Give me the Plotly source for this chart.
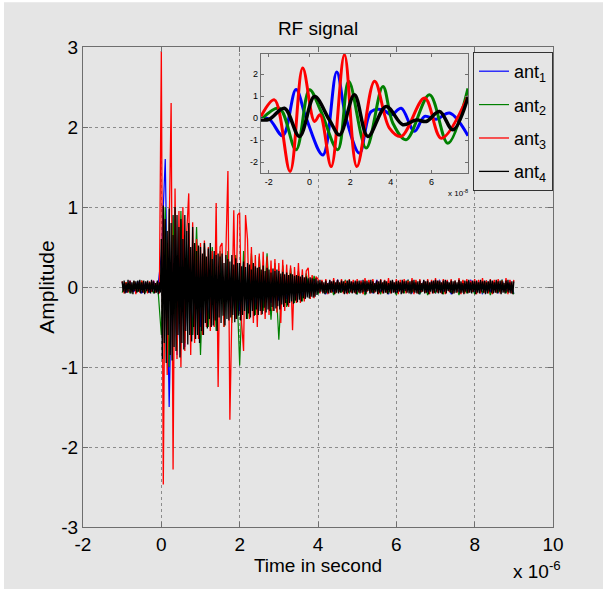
import numpy as np
import plotly.graph_objects as go

# ---------------- data (time in microseconds, amplitude in volts) ----------------
T_START_US = -1.0
FINE_STEP_US = 0.05      # ant3
COARSE_STEP_US = 0.1     # ant1, ant2
DENSE_STEP_US = 0.025    # ant4

# ant1 (blue) sampled on the coarse grid
ant1 = [0.06, -0.07, 0.08, -0.06, 0.07, -0.08, 0.06, -0.07, 0.08, -0.06,
        0.4, 1.6, -1.5, 0.9, -0.85, 0.7, -0.75, 0.6, -0.6, 0.55,
        -0.5, 0.5, -0.45, 0.45, -0.4, 0.4, -0.4, 0.35, -0.35, 0.35,
        -0.3, 0.3, -0.28, 0.25, -0.25, 0.22, -0.22, 0.2, -0.2, 0.18,
        -0.17, 0.16, -0.15, 0.14, -0.13, 0.12, -0.12, 0.11, -0.1, 0.1,
        -0.08, 0.07, -0.09, 0.08, -0.07, 0.09, -0.06, 0.08, -0.08, 0.07,
        -0.09, 0.08, -0.07, 0.06, -0.08, 0.09, -0.07, 0.08, -0.09, 0.07,
        -0.08, 0.06, -0.07, 0.09, -0.08, 0.07, -0.09, 0.08, -0.06, 0.07,
        -0.08, 0.09, -0.07, 0.08, -0.09, 0.06, -0.08, 0.07, -0.07, 0.09,
        -0.08, 0.07, -0.09, 0.08, -0.06, 0.07, -0.08, 0.09, -0.07, 0.08,
        -0.08]

# ant2 (green) sampled on the coarse grid
ant2 = [-0.07, 0.06, -0.08, 0.07, -0.06, 0.08, -0.07, 0.06, -0.08, 0.07,
        -0.6, 1.0, -1.0, 0.9, -0.8, 0.95, -0.7, 0.6, -0.6, 0.75,
        -0.85, 0.55, -0.5, 0.5, -0.55, 0.45, -0.5, 0.45, -0.45, 0.4,
        -0.98, 0.45, -0.4, 0.42, -0.35, 0.38, -0.3, 0.42, -0.41, 0.3,
        -0.66, 0.27, -0.25, 0.24, -0.2, 0.2, -0.18, 0.17, -0.15, 0.14,
        -0.09, 0.07, -0.08, 0.06, -0.1, 0.08, -0.07, 0.09, -0.08, 0.06,
        -0.09, 0.07, -0.1, 0.08, -0.07, 0.06, -0.09, 0.08, -0.08, 0.07,
        -0.1, 0.06, -0.08, 0.09, -0.07, 0.08, -0.09, 0.07, -0.1, 0.06,
        -0.08, 0.08, -0.09, 0.07, -0.07, 0.06, -0.1, 0.08, -0.08, 0.07,
        -0.09, 0.06, -0.08, 0.08, -0.1, 0.07, -0.07, 0.09, -0.08, 0.06,
        -0.09]

# ant3 (red) sampled on the fine grid
ant3 = [0.07, -0.08, 0.06, -0.07, 0.08, -0.06, 0.07, -0.09, 0.06, -0.07,
        0.08, -0.07, 0.06, -0.08, 0.07, -0.06, 0.08, -0.07, 0.06, -0.08,
        2.95, -2.47, 0.85, -1.1, 0.7, 2.3, -2.28, 1.23, -0.9, 0.95,
        -1.0, 1.0, -0.8, 0.7, 1.17, -0.85, 0.81, -0.7, 0.6, -0.65,
        0.55, -0.6, 0.58, -0.5, 0.5, -0.55, 0.45, -0.5, 1.05, -1.25,
        0.5, 0.55, -0.5, 0.45, 1.45, -1.66, -0.45, 0.96, -0.4, 0.9,
        0.93, -0.45, -0.8, 0.9, 0.6, -0.4, 0.5, -0.45, 0.4, -0.5,
        0.42, -0.35, 0.44, -0.4, 0.38, -0.35, 0.33, -0.3, 0.35, -0.32,
        0.3, -0.45, 0.34, -0.3, 0.28, -0.25, 0.27, -0.54, 0.25, -0.2,
        0.3, -0.2, 0.22, -0.18, 0.2, 0.24, -0.15, 0.15, -0.14, 0.13,
        0.1, -0.08, 0.09, -0.07, 0.1, -0.09, 0.08, -0.07, 0.11, -0.08,
        0.09, -0.06, 0.1, -0.08, 0.08, -0.09, 0.1, -0.07, 0.09, -0.08,
        0.1, -0.07, 0.08, -0.09, 0.11, -0.06, 0.09, -0.08, 0.1, -0.07,
        0.08, -0.09, 0.1, -0.08, 0.09, -0.07, 0.11, -0.08, 0.08, -0.06,
        0.1, -0.09, 0.09, -0.07, 0.1, -0.08, 0.08, -0.07, 0.11, -0.09,
        0.09, -0.08, 0.1, -0.06, 0.08, -0.07, 0.1, -0.09, 0.09, -0.08,
        0.11, -0.07, 0.08, -0.08, 0.1, -0.09, 0.09, -0.06, 0.1, -0.08,
        0.08, -0.07, 0.11, -0.09, 0.09, -0.08, 0.1, -0.07, 0.08, -0.06,
        0.1, -0.09, 0.09, -0.08, 0.11, -0.07, 0.08, -0.08, 0.1, -0.09,
        0.09, -0.07, 0.1, -0.08, 0.08, -0.06, 0.11, -0.09, 0.09, -0.08,
        0.09]

# ant4 (black) sampled on the dense grid
ant4 = [0.07, -0.06, 0.08, -0.08, 0.05, -0.07, 0.09, -0.06, 0.07, -0.08, 0.06, -0.09, 0.08, -0.05, 0.07, -0.07, 0.08, -0.06, 0.09, -0.08,
        0.06, -0.07, 0.08, -0.09, 0.07, -0.05, 0.08, -0.07, 0.06, -0.08, 0.09, -0.06, 0.07, -0.08, 0.05, -0.07, 0.08, -0.09, 0.06, -0.07,
        0.6, -0.9, 1.02, -0.7, 0.85, -0.95, 0.7, -0.6, 0.98, -0.85, 0.8, -0.92, 0.65, -0.75, 1.0, -0.8, 0.9, -0.6, 0.75, -0.88,
        0.85, -0.7, 0.6, -0.78, 0.9, -0.55, 0.7, -0.72, 0.8, -0.6, 0.5, -0.68, 0.75, -0.5, 0.55, -0.65, 0.45, -0.6, 0.52, -0.7,
        0.5, -0.55, 0.42, -0.6, 0.55, -0.45, 0.38, -0.52, 0.48, -0.4, 0.55, -0.5, 0.35, -0.48, 0.45, -0.42, 0.4, -0.55, 0.42, -0.38,
        0.38, -0.45, 0.42, -0.36, 0.3, -0.48, 0.4, -0.4, 0.35, -0.42, 0.32, -0.38, 0.4, -0.35, 0.28, -0.44, 0.36, -0.4, 0.3, -0.36,
        0.3, -0.42, 0.26, -0.35, 0.32, -0.3, 0.25, -0.4, 0.3, -0.33, 0.28, -0.38, 0.22, -0.3, 0.3, -0.36, 0.26, -0.28, 0.24, -0.35,
        0.25, -0.3, 0.22, -0.34, 0.27, -0.26, 0.2, -0.32, 0.24, -0.28, 0.22, -0.3, 0.18, -0.25, 0.23, -0.3, 0.2, -0.27, 0.22, -0.24,
        0.2, -0.28, 0.17, -0.22, 0.19, -0.25, 0.16, -0.2, 0.18, -0.23, 0.15, -0.2, 0.17, -0.18, 0.16, -0.21, 0.14, -0.17, 0.15, -0.19,
        0.14, -0.16, 0.13, -0.18, 0.15, -0.14, 0.12, -0.15, 0.13, -0.13, 0.11, -0.14, 0.12, -0.12, 0.11, -0.13, 0.1, -0.12, 0.11, -0.1,
        0.08, -0.07, 0.09, -0.06, 0.07, -0.08, 0.06, -0.09, 0.08, -0.07, 0.05, -0.08, 0.09, -0.07, 0.07, -0.06, 0.08, -0.09, 0.06, -0.07,
        0.09, -0.08, 0.06, -0.07, 0.08, -0.06, 0.07, -0.09, 0.05, -0.08, 0.08, -0.07, 0.09, -0.06, 0.07, -0.08, 0.06, -0.07, 0.08, -0.09,
        0.07, -0.06, 0.08, -0.08, 0.06, -0.07, 0.09, -0.06, 0.07, -0.09, 0.08, -0.05, 0.06, -0.08, 0.09, -0.07, 0.07, -0.08, 0.05, -0.06,
        0.08, -0.09, 0.07, -0.07, 0.09, -0.06, 0.06, -0.08, 0.08, -0.07, 0.07, -0.09, 0.05, -0.06, 0.08, -0.08, 0.09, -0.07, 0.06, -0.08,
        0.07, -0.07, 0.08, -0.06, 0.06, -0.09, 0.09, -0.08, 0.07, -0.05, 0.08, -0.07, 0.06, -0.08, 0.07, -0.09, 0.08, -0.06, 0.09, -0.07,
        0.06, -0.08, 0.07, -0.09, 0.08, -0.07, 0.05, -0.06, 0.09, -0.08, 0.07, -0.07, 0.08, -0.09, 0.06, -0.06, 0.07, -0.08, 0.08, -0.07,
        0.09, -0.06, 0.08, -0.08, 0.07, -0.07, 0.06, -0.09, 0.08, -0.06, 0.09, -0.08, 0.07, -0.05, 0.06, -0.07, 0.08, -0.09, 0.07, -0.08,
        0.08, -0.07, 0.06, -0.06, 0.09, -0.08, 0.07, -0.07, 0.05, -0.09, 0.08, -0.06, 0.07, -0.08, 0.09, -0.07, 0.06, -0.08, 0.08, -0.06,
        0.07, -0.09, 0.08, -0.07, 0.06, -0.08, 0.09, -0.06, 0.07, -0.07, 0.08, -0.09, 0.06, -0.08, 0.07, -0.06, 0.09, -0.07, 0.08, -0.08,
        0.06, -0.07, 0.09, -0.08, 0.07, -0.06, 0.08, -0.09, 0.07, -0.07, 0.05, -0.08, 0.08, -0.06, 0.09, -0.07, 0.06, -0.08, 0.07, -0.09,
        0.07]

# inset: zoom on the first arrival (time in units of 1e-8 s)
zoom_ant1_t = [-2.38, -1.97, -1.31, -0.66, -0.16, 0.66, 1.34, 1.80, 2.46, 3.03, 3.61, 4.02, 4.51, 5.16, 5.66, 6.23, 6.89, 7.79]
zoom_ant1_v = [0.0, -0.05, -0.8, 1.3, 0.0, -1.67, 2.09, 0.0, -1.59, 0.3, 0.38, 0.15, 0.45, -0.6, 0.08, -0.05, 0.23, -0.8]
zoom_ant2_t = [-2.38, -1.48, -0.66, 0.0, 0.57, 1.39, 1.93, 2.79, 3.61, 4.10, 4.75, 5.90, 6.80, 7.79]
zoom_ant2_v = [-0.08, 0.45, -1.44, 1.29, 0.3, -1.44, 1.67, -1.36, 1.44, -0.23, -0.98, 1.06, -1.14, 1.35]
zoom_ant3_t = [-2.38, -1.72, -0.95, -0.33, 0.25, 0.52, 1.07, 1.72, 2.33, 3.20, 3.93, 4.51, 5.66, 6.48, 7.79]
zoom_ant3_v = [0.08, 0.83, -2.42, 2.27, -0.15, 0.15, -2.2, 2.88, -2.2, 1.67, -0.45, -0.83, 0.91, -0.91, 1.0]
zoom_ant4_t = [-2.38, -1.97, -1.23, -0.49, 0.25, 0.98, 1.48, 2.21, 2.87, 3.77, 4.59, 5.25, 5.74, 6.39, 7.05, 7.79]
zoom_ant4_v = [-0.08, -0.05, 0.45, -0.83, 0.98, -0.08, -0.76, 1.06, -0.83, 0.53, -0.3, -0.08, -0.15, 0.3, -0.53, 0.95]

names = ["ant<sub>1</sub>", "ant<sub>2</sub>", "ant<sub>3</sub>", "ant<sub>4</sub>"]
colors = ["#0000ff", "#008000", "#ff0000", "#000000"]
main_widths = [1.2, 1.2, 1.3, 1.3]

x_tick_vals = [-2, 0, 2, 4, 6, 8, 10]
y_tick_vals = [-3, -2, -1, 0, 1, 2, 3]
inset_x_ticks = [-2, 0, 2, 4, 6]
inset_y_ticks = [-2, -1, 0, 1, 2]
INSET_X_RANGE = [-2.38, 7.79]
INSET_Y_RANGE = [-2.49, 2.91]

# ---------------- figure ----------------
t_dense = np.round(T_START_US + DENSE_STEP_US * np.arange(len(ant4)), 4)
t_fine = np.round(T_START_US + FINE_STEP_US * np.arange(len(ant3)), 4)
t_coarse = np.round(T_START_US + COARSE_STEP_US * np.arange(len(ant1)), 4)

BG = "#e5e5e5"
FONT = "Liberation Sans, Arial, sans-serif"

fig = go.Figure()
series = [(t_coarse, ant1), (t_coarse, ant2), (t_fine, ant3), (t_dense, ant4)]
for i, (tt, vv) in enumerate(series):
    fig.add_trace(go.Scatter(x=tt, y=vv, mode="lines", name=names[i],
                             legendgroup=f"g{i}",
                             line=dict(color=colors[i], width=main_widths[i]),
                             xaxis="x", yaxis="y"))

zooms = [(zoom_ant1_t, zoom_ant1_v), (zoom_ant2_t, zoom_ant2_v),
         (zoom_ant3_t, zoom_ant3_v), (zoom_ant4_t, zoom_ant4_v)]
for i, (tt, vv) in enumerate(zooms):
    fig.add_trace(go.Scatter(x=tt, y=vv, mode="lines", showlegend=False,
                             legendgroup=f"z{i}",
                             line=dict(color=colors[i], width=3.5 if i == 3 else 3,
                                       shape="spline", smoothing=1.0),
                             xaxis="x2", yaxis="y2"))

axis_common = dict(showline=True, linecolor="#6e6e6e", linewidth=1.2, mirror="ticks",
                   ticks="inside", tickcolor="#6e6e6e", zeroline=False)

fig.update_layout(
    width=603, height=589,
    margin=dict(l=83, r=50, t=47, b=62, autoexpand=False),
    paper_bgcolor=BG, plot_bgcolor=BG,
    font=dict(family=FONT, color="#000000"),
    title=dict(text="RF signal", x=0.5, xref="paper", xanchor="center",
               y=1 - 28 / 589, yanchor="middle", font=dict(size=19)),
    xaxis=dict(domain=[0, 1], range=[-2, 10], tickvals=x_tick_vals,
               ticktext=[str(v) for v in x_tick_vals], ticklen=5,
               showgrid=True, gridcolor="#8c8c8c", griddash="dot", gridwidth=1,
               tickfont=dict(size=19),
               title=dict(text="Time in second", font=dict(size=19), standoff=0),
               **axis_common),
    yaxis=dict(domain=[0, 1], range=[-3, 3], tickvals=y_tick_vals,
               ticktext=[str(v) for v in y_tick_vals], ticklen=5,
               showgrid=True, gridcolor="#8c8c8c", griddash="dot", gridwidth=1,
               tickfont=dict(size=19),
               title=dict(text="Amplitude", font=dict(size=21), standoff=0),
               **axis_common),
    xaxis2=dict(domain=[0.3787, 0.8191], range=INSET_X_RANGE, anchor="y2",
                tickvals=inset_x_ticks, ticktext=[str(v) for v in inset_x_ticks],
                ticklen=3, showgrid=False, tickfont=dict(size=9), **axis_common),
    yaxis2=dict(domain=[0.7375, 0.9854], range=INSET_Y_RANGE, anchor="x2",
                tickvals=inset_y_ticks, ticktext=[str(v) for v in inset_y_ticks],
                ticklen=3, showgrid=False, tickfont=dict(size=9), **axis_common),
    showlegend=True,
    legend=dict(x=0.8298, y=0.9896, xanchor="left", yanchor="top",
                bgcolor=BG, bordercolor="#333333", borderwidth=1,
                font=dict(size=18), itemwidth=30, tracegroupgap=7,
                traceorder="grouped"),
    shapes=[
        dict(type="rect", xref="x2", yref="y2",
             x0=INSET_X_RANGE[0], x1=INSET_X_RANGE[1],
             y0=INSET_Y_RANGE[0], y1=INSET_Y_RANGE[1],
             fillcolor=BG, line=dict(width=0), layer="between"),
        dict(type="rect", xref="paper", yref="paper", x0=-0.1766, x1=-0.1681,
             y0=-0.2, y1=1.1, fillcolor="#ffffff", line=dict(width=0), layer="above"),
        dict(type="rect", xref="paper", yref="paper", x0=-0.2, x1=1.2,
             y0=1.0931, y1=1.1, fillcolor="#ffffff", line=dict(width=0), layer="above"),
    ],
    annotations=[
        dict(text="x 10<sup>-6</sup>", xref="paper", yref="paper", x=0.966, y=-0.0896,
             xanchor="center", yanchor="middle", showarrow=False, font=dict(size=19)),
        dict(text="x 10<sup>-8</sup>", xref="paper", yref="paper", x=0.798, y=0.696,
             xanchor="center", yanchor="middle", showarrow=False, font=dict(size=8)),
    ],
)

fig.write_html("out.html", config={"displayModeBar": False},
               post_script="document.body.style.margin='0';")
